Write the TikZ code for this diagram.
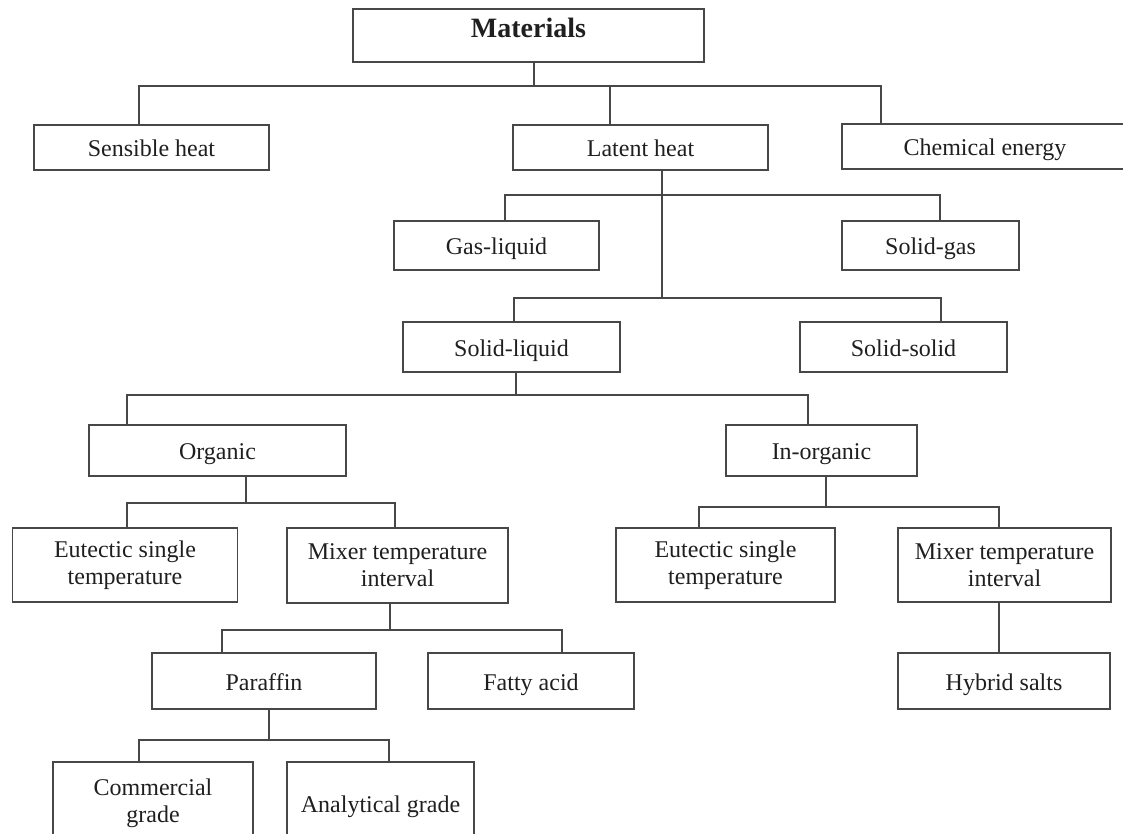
\documentclass[tikz,border=0pt]{standalone}
\usepackage{fontspec}
\setmainfont{Liberation Serif}
\usepackage{tikz}
\tikzstyle{cajados} = [rectangle,draw=black!72,line width=0.75pt,align=center,inner sep=0pt,text=black!88]
\tikzstyle{caja} = [cajados,text height=10pt,text depth=1pt]
\tikzstyle{cajatitulo} = [cajados,font=\fontsize{14}{16}\selectfont\bfseries,text height=14.5pt,text depth=12pt]
\tikzstyle{linea} = [draw=black!72,line width=0.75pt]

\begin{document}
\begin{tikzpicture}[x=0.5pt,y=-0.5pt]
\tikzstyle{every node}=[font=\fontsize{12}{13.5}\selectfont]
\useasboundingbox (0,0) rectangle (1123,834);

\node (Mat)   [cajatitulo,minimum width=175.5pt] at (528.5,35.5) {Materials};

\node (Sens)  [caja,minimum width=117.5pt,minimum height=22.5pt] at (151.5,147.5) {Sensible heat};
\node (Lat)   [caja,minimum width=127.5pt,minimum height=22.5pt] at (640.5,147.5) {Latent heat};
\node (Chem)  [caja,minimum width=143pt,minimum height=22.5pt] at (985,146.5) {Chemical energy}; % runs off the page

\node (GasL)  [caja,minimum width=102.5pt,minimum height=24.5pt] at (496.5,245.5) {Gas-liquid};
\node (SolG)  [caja,minimum width=88.5pt,minimum height=24.5pt] at (930.5,245.5) {Solid-gas};
\node (SolL)  [caja,minimum width=108.5pt,minimum height=25pt] at (511.5,347) {Solid-liquid};
\node (SolS)  [caja,minimum width=103.5pt,minimum height=25pt] at (903.5,347) {Solid-solid};

\node (Org)   [caja,minimum width=128.5pt,minimum height=25.5pt] at (217.5,450.5) {Organic};
\node (Inorg) [caja,minimum width=95.5pt,minimum height=25.5pt] at (821.5,450.5) {In-organic};

\node (EutA)  [cajados,minimum width=112.5pt,minimum height=37pt] at (125,565) {Eutectic single\\temperature};
\node (MixA)  [cajados,minimum width=110.5pt,minimum height=37.5pt] at (397.5,565.5) {Mixer temperature\\interval};
\node (EutB)  [cajados,minimum width=109.5pt,minimum height=37pt] at (725.5,565) {Eutectic single\\temperature};
\node (MixB)  [cajados,minimum width=106.5pt,minimum height=37pt] at (1004.5,565) {Mixer temperature\\interval};

\node (Paraf) [caja,minimum width=112pt,minimum height=28pt] at (264,681) {Paraffin};
\node (Fatty) [caja,minimum width=103pt,minimum height=28pt] at (531,681) {Fatty acid};
\node (Hyb)   [caja,minimum width=106pt,minimum height=28pt] at (1004,681) {Hybrid salts};

\node (Comm)  [cajados,minimum width=100pt,minimum height=41.5pt] at (153,803.5) {Commercial\\grade};
\node (Anal)  [caja,minimum width=93.5pt,minimum height=41.5pt] at (380.5,803.5) {Analytical grade};

% junctions of the tree
\coordinate (J1) at (534,86);   \coordinate (J1L) at (139,86);  \coordinate (J1M) at (610,86);  \coordinate (J1R) at (881,86);
\coordinate (J2L) at (505,195); \coordinate (J2R) at (940,195);
\coordinate (J3) at (662,298);  \coordinate (J3L) at (514,298); \coordinate (J3R) at (941,298);
\coordinate (J4) at (516,395);  \coordinate (J4L) at (127,395); \coordinate (J4R) at (808,395);
\coordinate (J5) at (246,503);  \coordinate (J5L) at (127,503); \coordinate (J5R) at (395,503);
\coordinate (J6) at (826,507);  \coordinate (J6L) at (699,507); \coordinate (J6R) at (999,507);
\coordinate (J7) at (390,630);  \coordinate (J7L) at (222,630); \coordinate (J7R) at (562,630);
\coordinate (J8) at (269,740);  \coordinate (J8L) at (139,740); \coordinate (J8R) at (389,740);

\draw[linea] (Mat.south -| J1) -- (J1);
\draw[linea] (Sens.north -| J1L) -- (J1L) -- (J1R) -- (Chem.north -| J1R);
\draw[linea] (J1M) -- (Lat.north -| J1M);

\draw[linea] (Lat.south -| J3) -- (J3);
\draw[linea] (GasL.north -| J2L) -- (J2L) -- (J2R) -- (SolG.north -| J2R);
\draw[linea] (SolL.north -| J3L) -- (J3L) -- (J3R) -- (SolS.north -| J3R);

\draw[linea] (SolL.south -| J4) -- (J4);
\draw[linea] (Org.north -| J4L) -- (J4L) -- (J4R) -- (Inorg.north -| J4R);

\draw[linea] (Org.south -| J5) -- (J5);
\draw[linea] (EutA.north -| J5L) -- (J5L) -- (J5R) -- (MixA.north -| J5R);

\draw[linea] (Inorg.south -| J6) -- (J6);
\draw[linea] (EutB.north -| J6L) -- (J6L) -- (J6R) -- (MixB.north -| J6R);
\draw[linea] (MixB.south -| J6R) -- (Hyb.north -| J6R);

\draw[linea] (MixA.south -| J7) -- (J7);
\draw[linea] (Paraf.north -| J7L) -- (J7L) -- (J7R) -- (Fatty.north -| J7R);

\draw[linea] (Paraf.south -| J8) -- (J8);
\draw[linea] (Comm.north -| J8L) -- (J8L) -- (J8R) -- (Anal.north -| J8R);
\end{tikzpicture}
\end{document}
